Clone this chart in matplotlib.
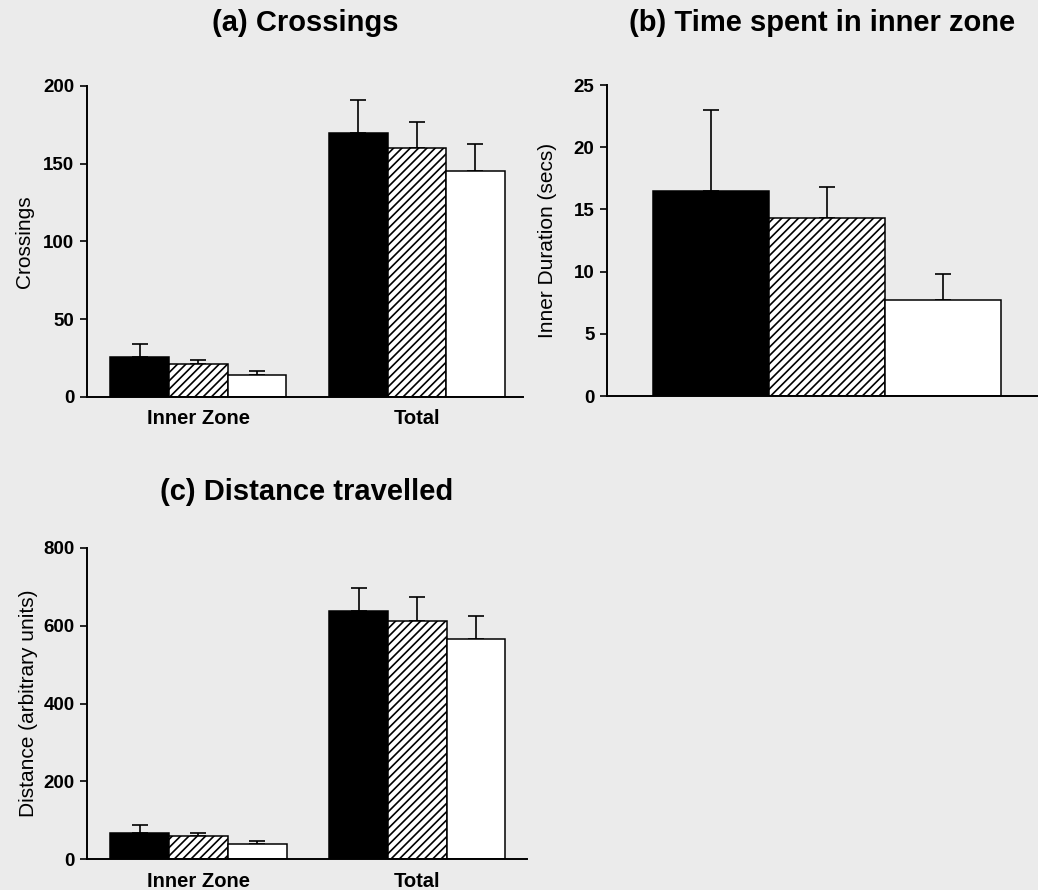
import numpy as np
import matplotlib
matplotlib.use('Agg')
import matplotlib.pyplot as plt

plt.rcParams['font.family'] = ['Liberation Sans', 'DejaVu Sans']
plt.rcParams['hatch.linewidth'] = 1.2

BG = '#ebebeb'

# 组名和三组动物的均值 / 标准误
groups = ['Inner Zone', 'Total']

crossings_mean = [[26, 170], [21, 160], [14, 145]]
crossings_err = [[8, 21], [3, 17], [3, 18]]

duration_mean = [16.5, 14.3, 7.7]
duration_err = [6.5, 2.5, 2.1]

distance_mean = [[67, 638], [59, 612], [39, 566]]
distance_err = [[20, 59], [8, 61], [7, 60]]

# 三组的填充样式: 黑色, 斜线, 白色
fills = ['black', 'white', 'white']
hatches = [None, '////', None]


def style_axes(ax, ylim, yticks):
    ax.set_facecolor(BG)
    ax.spines['top'].set_visible(False)
    ax.spines['right'].set_visible(False)
    ax.spines['left'].set_linewidth(1.4)
    ax.spines['bottom'].set_linewidth(1.4)
    ax.set_ylim(*ylim)
    ax.set_yticks(yticks)
    ax.tick_params(axis='y', direction='out', length=5, width=1.2,
                   labelsize=13.5, pad=4)
    ax.tick_params(axis='x', length=0, labelsize=14.5, pad=9)
    for lab in ax.get_yticklabels() + ax.get_xticklabels():
        lab.set_fontweight('bold')


def grouped_bars(ax, means, errs, centers):
    for k in range(3):
        xs = np.array(centers) + (k - 1)
        ax.bar(xs, means[k], width=1.0, color=fills[k], hatch=hatches[k],
               edgecolor='black', linewidth=1.1, zorder=2)
        ax.errorbar(xs, means[k], yerr=[np.zeros(len(errs[k])), errs[k]],
                    fmt='none', ecolor='black', elinewidth=1.2,
                    capsize=5.5, capthick=1.2, zorder=1)


fig = plt.figure(figsize=(10.38, 8.90), dpi=100)
fig.patch.set_facecolor(BG)

# (a) 穿越次数
ax1 = fig.add_axes([0.0838, 0.554, 0.420, 0.3494])
centers = [0, 3.73]
grouped_bars(ax1, crossings_mean, crossings_err, centers)
ax1.set_xlim(-1.9, 5.54)
ax1.set_xticks(centers)
ax1.set_xticklabels(groups)
style_axes(ax1, (0, 200), [0, 50, 100, 150, 200])
ax1.set_ylabel('Crossings', fontsize=15, labelpad=7)

# (b) 内区停留时间
ax2 = fig.add_axes([0.5848, 0.555, 0.4152, 0.3494])
xs = np.arange(3)
ax2.bar(xs, duration_mean, width=1.0, color=fills,
        edgecolor='black', linewidth=1.1, zorder=2)
ax2.patches[1].set_hatch('////')
ax2.errorbar(xs, duration_mean, yerr=[np.zeros(3), duration_err],
             fmt='none', ecolor='black', elinewidth=1.2,
             capsize=5.5, capthick=1.2, zorder=1)
ax2.set_xlim(-0.9, 2.82)
ax2.set_xticks([])
style_axes(ax2, (0, 25), [0, 5, 10, 15, 20, 25])
ax2.set_ylabel('Inner Duration (secs)', fontsize=15, labelpad=12)

# (c) 移动距离
ax3 = fig.add_axes([0.0838, 0.0348, 0.424, 0.3495])
grouped_bars(ax3, distance_mean, distance_err, centers)
ax3.set_xlim(-1.9, 5.6)
ax3.set_xticks(centers)
ax3.set_xticklabels(groups)
style_axes(ax3, (0, 800), [0, 200, 400, 600, 800])
ax3.set_ylabel('Distance (arbitrary units)', fontsize=15, labelpad=4)

for ax, title, ypos in [(ax1, '(a) Crossings', 0.974),
                        (ax2, '(b) Time spent in inner zone', 0.974),
                        (ax3, '(c) Distance travelled', 0.447)]:
    box = ax.get_position()
    fig.text((box.x0 + box.x1) / 2, ypos, title, fontsize=21,
             fontweight='bold', ha='center', va='center')

fig.savefig('out.png', dpi=100, facecolor=BG)
